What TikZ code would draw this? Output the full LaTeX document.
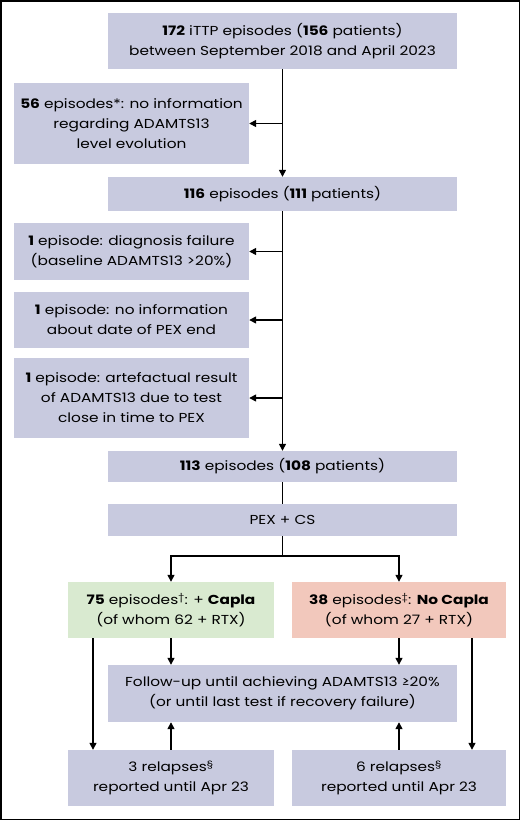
\documentclass[tikz,border=0pt]{standalone}
\usepackage{fontspec}
\setmainfont{Poppins}[FakeStretch=1.18]
\usetikzlibrary{arrows.meta}
\definecolor{boxlav}{HTML}{C8CADF}
\definecolor{boxgreen}{HTML}{D9EAD0}
\definecolor{boxred}{HTML}{F2C8BC}
\begin{document}
\begin{tikzpicture}[x=1pt,y=-1pt,
  fbox/.style={fill=boxlav, draw=none, minimum width=#1, inner sep=0pt, align=center, font=\fontsize{13}{20}\selectfont},
  fbox/.default=349,
  conn/.style={line width=1.4pt, -{Triangle[length=7pt,width=7pt]}},
  plain/.style={line width=1.4pt}]
\useasboundingbox (0,0) rectangle (520,820);
\draw[line width=1.5pt] (0.75,0.75) rectangle (519.25,819.25);
\node[fbox, minimum height=56] (top) at (282.5,41) {\textbf{172} iTTP episodes (\textbf{156} patients)\\between September 2018 and April 2023};
\node[fbox=235, minimum height=81] (ex1) at (131.5,123.5) {\textbf{56} episodes*: no information\\regarding ADAMTS13\\level evolution};
\node[fbox, minimum height=34] (n116) at (282.5,194) {\textbf{116} episodes (\textbf{111} patients)};
\node[fbox=235, minimum height=57] (ex2) at (131.5,251.5) {\textbf{1} episode: diagnosis failure\\(baseline ADAMTS13 >20\%)};
\node[fbox=235, minimum height=56] (ex3) at (131.5,320) {\textbf{1} episode: no information\\about date of PEX end};
\node[fbox=235, minimum height=80] (ex4) at (131.5,398) {\textbf{1} episode: artefactual result\\of ADAMTS13 due to test\\close in time to PEX};
\node[fbox, minimum height=31] (n113) at (282.5,466.5) {\textbf{113} episodes (\textbf{108} patients)};
\node[fbox, minimum height=32] (pex) at (282.5,520) {PEX + CS};
\node[fbox=206, fill=boxgreen, minimum height=56] (capla) at (171,610) {\textbf{75} episodes\textsuperscript{†}: + \textbf{Capla}\\(of whom 62 + RTX)};
\node[fbox=214, fill=boxred, minimum height=56] (nocapla) at (399,610) {\textbf{38} episodes\textsuperscript{‡}: \textbf{No Capla}\\(of whom 27 + RTX)};
\node[fbox, minimum height=57] (fu) at (282.5,693.5) {Follow-up until achieving ADAMTS13 ≥20\%\\(or until last test if recovery failure)};
\node[fbox=206, minimum height=56] (rel1) at (171,778) {3 relapses\textsuperscript{§}\\reported until Apr 23};
\node[fbox=214, minimum height=56] (rel2) at (399,778) {6 relapses\textsuperscript{§}\\reported until Apr 23};
\coordinate (s1) at (282.5,123.5);
\draw[conn] (top.south) -- (n116.north);
\draw[conn] (s1) -- (ex1.east);
\draw[conn] (n116.south) -- (n113.north);
\draw[conn] (n116.south |- ex2.east) -- (ex2.east);
\draw[conn] (n116.south |- ex3.east) -- (ex3.east);
\draw[conn] (n116.south |- ex4.east) -- (ex4.east);
\draw[plain] (n113.south) -- (pex.north);
\coordinate (br) at (282.5,556);
\draw[plain] (pex.south) -- (br);
\draw[conn] (br) -| (capla.north);
\draw[conn] (br) -| (nocapla.north);
\draw[conn] (capla.south) -- (capla.south |- fu.north);
\draw[conn] (nocapla.south) -- (nocapla.south |- fu.north);
\draw[conn] (rel1.north) -- (rel1.north |- fu.south);
\draw[conn] (rel2.north) -- (rel2.north |- fu.south);
\draw[conn] ([xshift=-78pt]capla.south) -- ([xshift=-78pt]rel1.north);
\draw[conn] ([xshift=73pt]nocapla.south) -- ([xshift=73pt]rel2.north);
\end{tikzpicture}
\end{document}
